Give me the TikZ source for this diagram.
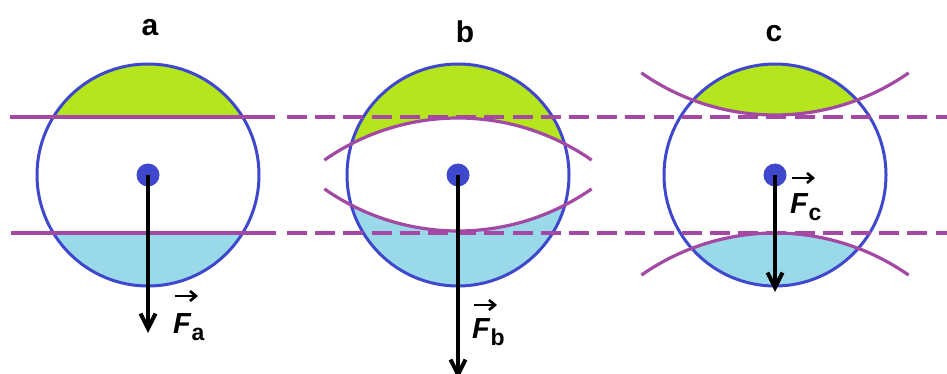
\documentclass[tikz,border=0pt]{standalone}
\usepackage{fontspec}
\setmainfont{Liberation Sans}
\usetikzlibrary{arrows.meta}
\definecolor{cblue}{RGB}{63,72,204}
\definecolor{cpurple}{RGB}{163,73,164}
\definecolor{cgreen}{RGB}{181,230,29}
\definecolor{clight}{RGB}{153,217,234}
\begin{document}
\begin{tikzpicture}[x=1pt,y=1pt,
  rim/.style={draw=cblue,line width=3pt},
  level/.style={draw=cpurple,line width=3.2pt},
  dashlevel/.style={level,dash pattern=on 20pt off 8.2pt},
  dotnode/.style={circle,fill=cblue,inner sep=0pt,minimum size=23pt},
  force/.style={line width=4pt,-{Straight Barb[length=15pt,width=15pt]}},
  vecar/.style={line width=2.6pt,-{Straight Barb[length=6pt,width=10pt]}},
  title/.style={font=\fontsize{30}{30}\selectfont\bfseries,anchor=base,inner sep=0pt},
  flabel/.style={font=\fontsize{29}{29}\selectfont\bfseries,anchor=base west,inner sep=0pt},
]
\useasboundingbox (0,0) rectangle (947,-374);
% centres
\coordinate (oa) at (148,-175);
\coordinate (ob) at (458,-175);
\coordinate (oc) at (775,-175);
% big arc centres
\coordinate (bt) at (458,-351);
\coordinate (bb) at (458,2);
\coordinate (ct) at (775,118);
\coordinate (cb) at (775,-466);
% fills a
\begin{scope}
  \clip (oa) circle[radius=111];
  \fill[cgreen] (30,0) rectangle (270,-117);
  \fill[clight] (30,-233) rectangle (270,-300);
\end{scope}
% fills b
\begin{scope}
  \clip (ob) circle[radius=111];
  \fill[cgreen,even odd rule] (ob) circle[radius=111] (bt) circle[radius=233];
  \fill[clight,even odd rule] (ob) circle[radius=111] (bb) circle[radius=233];
\end{scope}
% fills c
\begin{scope}
  \clip (oc) circle[radius=111];
  \fill[cgreen] (ct) circle[radius=233];
  \fill[clight] (cb) circle[radius=233];
\end{scope}
% rims
\draw[rim] (oa) circle[radius=111];
\draw[rim] (ob) circle[radius=111];
\draw[rim] (oc) circle[radius=111];
% level lines
\coordinate (u0) at (10,-117);
\coordinate (u1) at (275,-117);
\coordinate (u2) at (287,-117);
\coordinate (u3) at (947,-117);
\coordinate (w0) at (11,-233);
\coordinate (w1) at (276,-233);
\coordinate (w2) at (287,-233);
\coordinate (w3) at (947,-233);
\draw[level] (u0) -- (u1);
\draw[level] (w0) -- (w1);
\draw[dashlevel] (u2) -- (u3);
\draw[dashlevel] (w2) -- (w3);
% arcs
\draw[level] (bt) ++(125:233) arc[start angle=125,end angle=55,radius=233];
\draw[level] (bb) ++(-125:233) arc[start angle=-125,end angle=-55,radius=233];
\draw[level] (ct) ++(-125:233) arc[start angle=-125,end angle=-55,radius=233];
\draw[level] (cb) ++(125:233) arc[start angle=125,end angle=55,radius=233];
% dots
\node[dotnode] (da) at (oa) {};
\node[dotnode] (db) at (ob) {};
\node[dotnode] (dc) at (oc) {};
% forces
\coordinate (ea) at (148,-333);
\coordinate (eb) at (458,-379);
\coordinate (ec) at (775,-292);
\draw[force] (da.center) -- (ea);
\draw[force] (db.center) -- (eb);
\draw[force] (dc.center) -- (ec);
% titles
\node[title] (ta) at (150,-36) {a};
\node[title] (tb) at (465,-43) {b};
\node[title] (tc) at (774,-42) {c};
% force labels
\node[flabel] (Fa) at (173,-333) {\textit{F}\raisebox{-7pt}{\fontsize{23}{23}\selectfont a}};
\node[flabel] (Fb) at (472,-338) {\textit{F}\raisebox{-7pt}{\fontsize{23}{23}\selectfont b}};
\node[flabel] (Fc) at (790,-213) {\textit{F}\raisebox{-7pt}{\fontsize{23}{23}\selectfont c}};
\draw[vecar] ([shift={(2,37)}]Fa.base west) -- ++(23,0);
\draw[vecar] ([shift={(2,33)}]Fb.base west) -- ++(23,0);
\draw[vecar] ([shift={(2,35)}]Fc.base west) -- ++(23,0);
\end{tikzpicture}
\end{document}
